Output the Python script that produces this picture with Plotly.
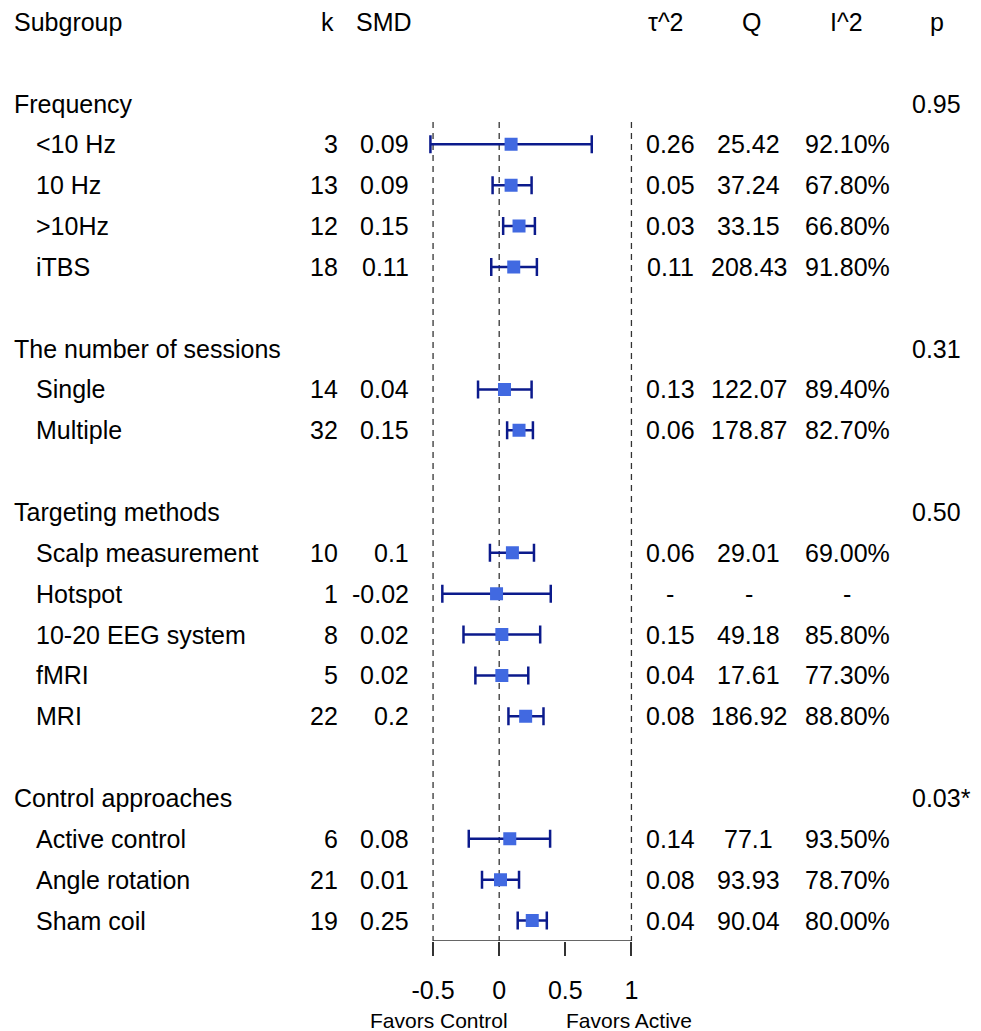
import plotly.graph_objects as go

# ---- data ----
groups = ["Frequency", "The number of sessions", "Targeting methods", "Control approaches"]
group_sizes = [4, 2, 5, 3]
group_p = ["0.95", "0.31", "0.50", "0.03*"]

subgroups = ["<10 Hz", "10 Hz", ">10Hz", "iTBS",
             "Single", "Multiple",
             "Scalp measurement", "Hotspot", "10-20 EEG system", "fMRI", "MRI",
             "Active control", "Angle rotation", "Sham coil"]
k = [3, 13, 12, 18, 14, 32, 10, 1, 8, 5, 22, 6, 21, 19]
smd = [0.09, 0.09, 0.15, 0.11, 0.04, 0.15, 0.1, -0.02, 0.02, 0.02, 0.2, 0.08, 0.01, 0.25]
smd_text = ["0.09", "0.09", "0.15", "0.11", "0.04", "0.15", "0.1", "-0.02", "0.02", "0.02",
            "0.2", "0.08", "0.01", "0.25"]
ci_low = [-0.52, -0.05, 0.03, -0.06, -0.16, 0.06, -0.07, -0.43, -0.27, -0.18, 0.07, -0.23, -0.13, 0.14]
ci_high = [0.70, 0.245, 0.27, 0.285, 0.245, 0.255, 0.263, 0.39, 0.31, 0.22, 0.335, 0.385, 0.15, 0.36]
tau2 = ["0.26", "0.05", "0.03", "0.11", "0.13", "0.06", "0.06", "-", "0.15", "0.04", "0.08",
        "0.14", "0.08", "0.04"]
Q = ["25.42", "37.24", "33.15", "208.43", "122.07", "178.87", "29.01", "-", "49.18", "17.61",
     "186.92", "77.1", "93.93", "90.04"]
I2 = ["92.10%", "67.80%", "66.80%", "91.80%", "89.40%", "82.70%", "69.00%", "-", "85.80%",
      "77.30%", "88.80%", "93.50%", "78.70%", "80.00%"]
headers = ["Subgroup", "k", "SMD", "τ^2", "Q", "I^2", "p"]
x_ticks = [-0.5, 0, 0.5, 1]
ref_lines = [-0.5, 0, 1]
favors = ["Favors Control", "Favors Active"]

# ---- row layout ----
group_rows = []
item_rows = []
r = 0
for gs in group_sizes:
    group_rows.append(r)
    for j in range(gs):
        item_rows.append(r + 1 + j)
    r += gs + 2

W, H = 981, 1031
OFFX = 10.5
OFFY = 8
FONT = "Liberation Sans, Arial, sans-serif"
FS = 25
PAD_L = 6
PAD_R = 1

def px(xpix, anchor="center"):
    x = xpix - OFFX
    if anchor == "left":
        x -= PAD_L
    elif anchor == "right":
        x += PAD_R
    return x / W

fig = go.Figure()

# reference dashed lines
for xv in ref_lines:
    fig.add_trace(go.Scatter(x=[xv, xv], y=[0.45, 20.5], mode="lines",
                             line=dict(color="#333333", width=1.3, dash="6px,5px"),
                             hoverinfo="skip", showlegend=False))

err_plus = [h - m for h, m in zip(ci_high, smd)]
err_minus = [m - l for m, l in zip(smd, ci_low)]
fig.add_trace(go.Scatter(
    x=smd, y=item_rows, mode="markers",
    marker=dict(symbol="square", size=13, color="#4169E1"),
    error_x=dict(type="data", array=err_plus, arrayminus=err_minus,
                 color="#0b1a8c", thickness=2.5, width=9),
    showlegend=False))

ann = []
def add(text, xpix, y, xanchor, size=FS, yref="y"):
    ann.append(dict(text=text, x=px(xpix, xanchor), y=y, xref="paper", yref=yref,
                    xanchor=xanchor, yanchor="middle", showarrow=False,
                    font=dict(family=FONT, size=size, color="black")))

# headers
hy = -2.0
add(headers[0], 12, hy, "left")
add(headers[1], 332, hy, "right")
add(headers[2], 411, hy, "right")
add(headers[3], 666, hy, "center")
add(headers[4], 752, hy, "center")
add(headers[5], 848, hy, "center")
add(headers[6], 939, hy, "center")

for g, rr, pv in zip(groups, group_rows, group_p):
    add(g, 12, rr, "left")
    add(pv, 918, rr, "left")

for i, rr in enumerate(item_rows):
    add(subgroups[i], 35, rr, "left")
    add(str(k[i]), 336, rr, "right")
    add(smd_text[i], 408, rr, "right")
    add(tau2[i], 670, rr, "center")
    add(Q[i], 749.5, rr, "center")
    add(I2[i], 848.5, rr, "center")

fav_y = (H - (1020 - OFFY)) / H
add(favors[0], 437, fav_y, "center", size=21, yref="paper")
add(favors[1], 629, fav_y, "center", size=21, yref="paper")

fig.add_shape(type="line", x0=-0.5, x1=1, y0=20.5, y1=20.5, xref="x", yref="y",
              line=dict(color="#333333", width=1.5))

x0pix = 431 - OFFX - 0.1 * 133.33
x1pix = 631 - OFFX + 0.1 * 133.33
axis_pix = 941 - OFFY
row0_pix = 103.5 - OFFY
row_h = 40.85

fig.update_layout(
    width=W, height=H, margin=dict(l=0, r=0, t=0, b=0),
    plot_bgcolor="white", paper_bgcolor="white",
    annotations=ann,
    xaxis=dict(domain=[x0pix / W, x1pix / W], range=[-0.6, 1.1],
               showgrid=False, zeroline=False, showline=False,
               tickmode="array", tickvals=x_ticks, ticktext=["-0.5", "0", "0.5", "1"],
               ticks="outside", ticklen=14, tickwidth=1.5, tickcolor="#333333",
               tickfont=dict(family=FONT, size=FS, color="black"),
               ticklabelstandoff=13),
    yaxis=dict(domain=[(H - axis_pix) / H, 1],
               range=[(axis_pix - row0_pix) / row_h, -row0_pix / row_h],
               showgrid=False, zeroline=False, showline=False, showticklabels=False,
               ticks=""),
)

fig.write_html("out.html")
